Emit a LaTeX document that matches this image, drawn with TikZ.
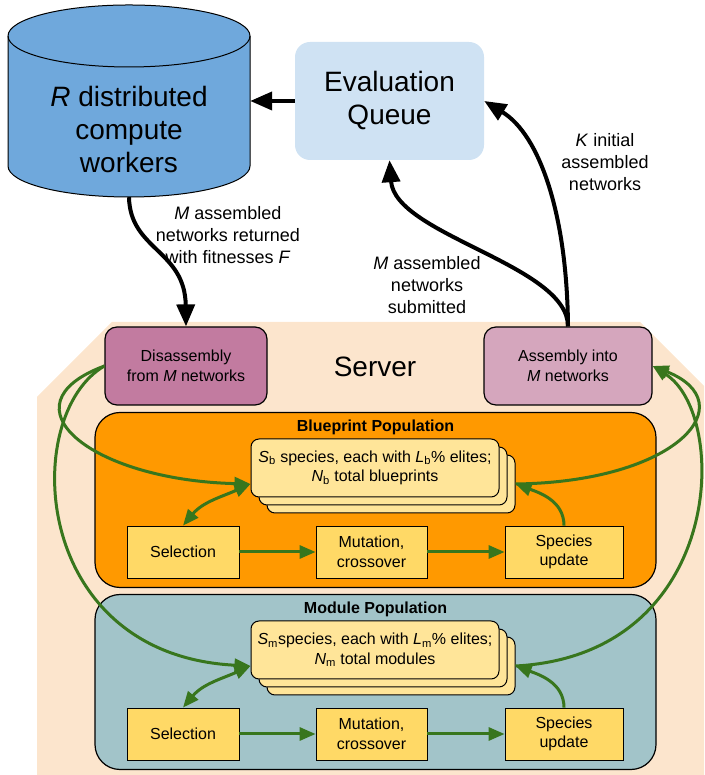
\documentclass[tikz,border=0pt]{standalone}
\usepackage{fontspec}
\setmainfont{Liberation Sans}
\usetikzlibrary{arrows.meta,shadows}

\definecolor{workerblue}{HTML}{6FA8DC}
\definecolor{queueblue}{HTML}{CFE2F3}
\definecolor{serverpeach}{HTML}{FCE5CD}
\definecolor{disasmpink}{HTML}{C27BA0}
\definecolor{asmpink}{HTML}{D5A6BD}
\definecolor{blueprintorange}{HTML}{FF9900}
\definecolor{moduleteal}{HTML}{A2C4C9}
\definecolor{stackyellow}{HTML}{FFE599}
\definecolor{opyellow}{HTML}{FFD966}
\definecolor{flowgreen}{HTML}{38761D}

\tikzset{
  bigtext/.style={font=\fontsize{28}{33}\selectfont, align=center},
  lbl/.style={font=\fontsize{18}{22}\selectfont, align=center},
  boxtext/.style={font=\fontsize{16}{19.5}\selectfont, align=center},
  proc/.style={boxtext, draw, line width=1.2pt, rounded corners=12pt, minimum height=78pt},
  popbox/.style={draw, line width=1.2pt, rounded corners=25pt, minimum width=561pt, minimum height=175pt},
  stackbox/.style={boxtext, draw, fill=stackyellow, line width=1pt, rounded corners=8pt,
    minimum width=248pt, minimum height=58pt,
    copy shadow={shadow xshift=16pt, shadow yshift=-16pt},
    copy shadow={shadow xshift=8pt, shadow yshift=-8pt}},
  opbox/.style={boxtext, draw, fill=opyellow, line width=0.8pt, minimum height=52pt},
  feed/.style={line width=4pt, -{Triangle[length=22pt,width=18pt]}},
  flow/.style={flowgreen, line width=3pt, -{Triangle[length=16pt,width=13pt]}},
}

\begin{document}
\begin{tikzpicture}[x=1pt, y=1pt]
\useasboundingbox (0,0) rectangle (704,775);

% server area
\fill[serverpeach] (37,378) -- (112,453) -- (640,453) -- (704,389) -- (704,0) -- (37,0) -- cycle;

% compute workers
\draw[fill=workerblue, line width=1pt] (8,739) -- (8,609)
  arc[start angle=180, end angle=360, x radius=121pt, y radius=31pt] -- (250,739)
  arc[start angle=0, end angle=180, x radius=121pt, y radius=31pt] -- cycle;
\draw[line width=1pt] (8,739) arc[start angle=180, end angle=360, x radius=121pt, y radius=31pt];
\node[bigtext, minimum width=242pt, minimum height=134pt] (workers) at (129,645) {\textit{R} distributed\\compute\\workers};

\node[bigtext, fill=queueblue, rounded corners=15pt, minimum width=189pt, minimum height=118pt] (queue) at (389.5,674) {Evaluation\\Queue};

\node[bigtext] (server) at (375,408) {Server};
\node[proc, fill=disasmpink, minimum width=162pt] (disasm) at (186,409) {Disassembly\\from \textit{M} networks};
\node[proc, fill=asmpink, minimum width=168pt] (asm) at (568,409) {Assembly into\\\textit{M} networks};

% the two populations
\foreach \p/\y/\col/\title/\info in {
    b/275/blueprintorange/Blueprint Population/{\textit{S}\textsubscript{b} species, each with \textit{L}\textsubscript{b}\% elites;\\\textit{N}\textsubscript{b} total blueprints},
    m/93/moduleteal/Module Population/{\textit{S}\textsubscript{m}species, each with \textit{L}\textsubscript{m}\% elites;\\\textit{N}\textsubscript{m} total modules}}
{
  \node[popbox, fill=\col] (pop\p) at (375.5,\y) {};
  \node[font=\fontsize{16}{19}\selectfont\bfseries] (title\p) at (375.5,\y+73) {\title};
  \node[stackbox] (stack\p) at (375,\y+32) {\info};
  \node[opbox, minimum width=112pt] (sel\p) at (183,\y-52) {Selection};
  \node[opbox, minimum width=111pt] (mut\p) at (371.5,\y-52) {Mutation,\\crossover};
  \node[opbox, minimum width=118pt] (spec\p) at (564,\y-52) {Species\\update};
  \coordinate (stack\p L) at ([yshift=-16pt]stack\p.west);
  \coordinate (stack\p R) at ([xshift=16pt,yshift=-16pt]stack\p.east);
  \draw[flow] (sel\p) -- (mut\p);
  \draw[flow] (mut\p) -- (spec\p);
  \draw[flow] (spec\p.north) to[out=90, in=-20] (stack\p R);
  \draw[flow, {Triangle[length=16pt,width=13pt]}-{Triangle[length=16pt,width=13pt]}]
    (stack\p L) to[out=204, in=50] (sel\p.north);
}

% evaluation loop
\draw[feed] (queue.west) -- (queue.west -| workers.east);
\draw[feed] (workers.south) .. controls (130,525) and (185,525) .. (disasm.north);
\node[lbl] (lblret) at (228,540) {\textit{M} assembled\\networks returned\\with fitnesses \textit{F}};
\draw[feed] (asm.north) .. controls (567,560) and (540,640) .. (queue.east);
\draw[feed] (asm.north) .. controls (568,510) and (395,540) .. (queue.south);
\node[lbl] (lblinit) at (605,613) {\textit{K} initial\\assembled\\networks};
\node[lbl] (lblsub) at (427,490) {\textit{M} assembled\\networks\\submitted};

% to and from the populations
\draw[flow] (disasm.west) .. controls (0,370) and (90,295) .. (stackbL);
\draw[flow] (disasm.west) .. controls (20,360) and (30,120) .. (stackmL);
\draw[flow] (stackbR) .. controls (678,293) and (745,372) .. (asm.east);
\draw[flow] (stackmR) .. controls (725,120) and (730,360) .. (asm.east);
\end{tikzpicture}
\end{document}
